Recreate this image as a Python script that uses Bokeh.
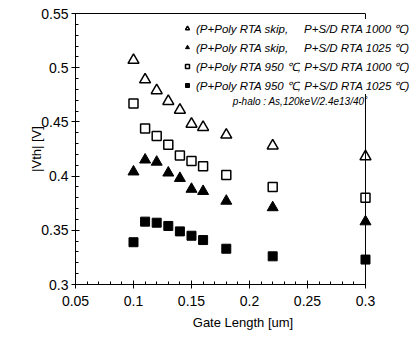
from bokeh.plotting import figure
from bokeh.models import (Range1d, LinearAxis, Span, Legend, LegendItem, Label,
                          SingleIntervalTicker, ColumnDataSource)
from bokeh.embed import file_html
from bokeh.resources import INLINE

gate_length = [0.10, 0.11, 0.12, 0.13, 0.14, 0.15, 0.16, 0.18, 0.22, 0.30]
skip_1000 = [0.507, 0.489, 0.479, 0.469, 0.461, 0.448, 0.445, 0.438, 0.428, 0.418]
skip_1025 = [0.404, 0.415, 0.413, 0.403, 0.398, 0.388, 0.386, 0.377, 0.371, 0.358]
rta950_1000 = [0.467, 0.444, 0.437, 0.429, 0.419, 0.414, 0.409, 0.401, 0.390, 0.380]
rta950_1025 = [0.339, 0.358, 0.357, 0.354, 0.349, 0.345, 0.341, 0.333, 0.326, 0.323]

labels = [
    "(P+Poly RTA skip,\u00a0\u00a0\u00a0\u00a0 P+S/D RTA 1000 \u2103)",
    "(P+Poly RTA skip,\u00a0\u00a0\u00a0\u00a0 P+S/D RTA 1025 \u2103)",
    "(P+Poly RTA 950 \u2103, P+S/D RTA 1000 \u2103)",
    "(P+Poly RTA 950 \u2103, P+S/D RTA 1025 \u2103)",
]
annotation_text = "p-halo : As,120keV/2.4e13/40\u02da"

FONT = "Liberation Sans"
X_MIN, X_MAX = 0.05, 0.3
Y_MIN, Y_MAX = 0.3, 0.55

p = figure(width=410, height=332, output_backend="svg", toolbar_location=None,
           x_range=Range1d(X_MIN, 0.3388), y_range=Range1d(Y_MIN, Y_MAX),
           min_border_left=75, min_border_right=0, min_border_top=13,
           min_border_bottom=45, x_axis_type=None, y_axis_type=None)
p.outline_line_color = None
p.grid.visible = False
p.background_fill_color = "white"
p.border_fill_color = "white"

xaxis = LinearAxis(ticker=SingleIntervalTicker(interval=0.05, num_minor_ticks=5),
                   bounds=(X_MIN - 1e-7, X_MAX + 1e-7), axis_label="Gate Length [um]")
yaxis = LinearAxis(ticker=SingleIntervalTicker(interval=0.05, num_minor_ticks=5),
                   axis_label="|Vth| [V]")
for ax in (xaxis, yaxis):
    ax.axis_line_color = "black"
    ax.major_tick_line_color = "black"
    ax.minor_tick_line_color = "black"
    ax.major_tick_in = 4
    ax.major_tick_out = 4
    ax.minor_tick_in = 3
    ax.minor_tick_out = 0
    ax.major_label_text_font = FONT
    ax.major_label_text_font_size = "14px"
    ax.major_label_text_color = "black"
    ax.axis_label_text_font = FONT
    ax.axis_label_text_font_size = "13px"
    ax.axis_label_text_font_style = "normal"
    ax.axis_label_text_color = "black"
xaxis.major_label_standoff = 7
xaxis.axis_label_standoff = 6
yaxis.major_label_standoff = 3
yaxis.axis_label_standoff = -6
p.add_layout(xaxis, "below")
p.add_layout(yaxis, "left")

top = LinearAxis(bounds=(X_MIN, X_MAX), major_tick_in=0, major_tick_out=0,
                 minor_tick_in=0, minor_tick_out=0, major_label_text_font_size="0px",
                 major_label_standoff=0, axis_line_color="black")
p.add_layout(top, "above")

p.add_layout(Span(location=X_MAX, dimension="height", line_color="black", line_width=1))

src = ColumnDataSource(dict(x=gate_length, a=skip_1000, b=skip_1025, c=rta950_1000, d=rta950_1025))
r1 = p.scatter("x", "a", source=src, marker="triangle", size=11, fill_color="white",
               line_color="black", line_width=1.5)
r2 = p.scatter("x", "b", source=src, marker="triangle", size=11, fill_color="black",
               line_color="black", line_width=1)
r3 = p.scatter("x", "c", source=src, marker="square", size=9, fill_color="white",
               line_color="black", line_width=1.5)
r4 = p.scatter("x", "d", source=src, marker="square", size=9, fill_color="black",
               line_color="black", line_width=1)

legend = Legend(items=[LegendItem(label=l, renderers=[r]) for l, r in zip(labels, [r1, r2, r3, r4])],
                location=(107, 190), padding=0, margin=0, spacing=1,
                glyph_width=10, glyph_height=18, label_height=18, label_standoff=4,
                label_text_font=FONT, label_text_font_size="11.5px",
                label_text_font_style="italic", label_text_color="black",
                background_fill_color="white", background_fill_alpha=1.0,
                border_line_color=None)
p.add_layout(legend, "center")

p.add_layout(Label(x=0.1855, y=0.469, text=annotation_text, text_font=FONT,
                   text_font_size="10px", text_font_style="italic",
                   text_baseline="middle", text_color="black"))

open("out.html", "w").write(file_html(p, INLINE))
